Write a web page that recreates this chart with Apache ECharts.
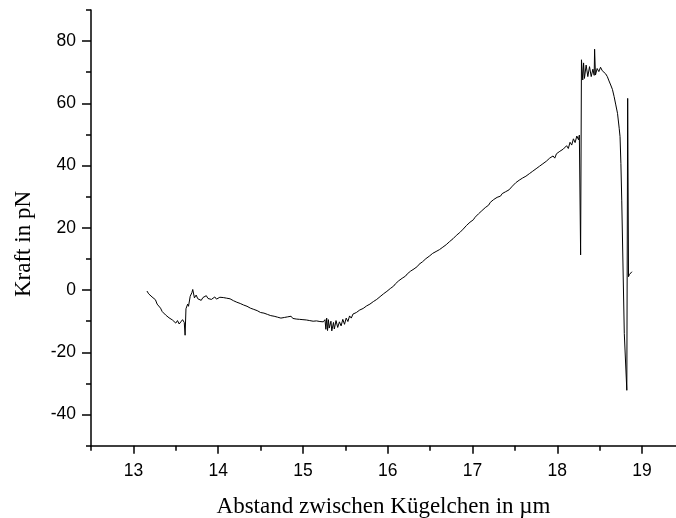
<!DOCTYPE html>
<html>
<head>
<meta charset="utf-8">
<script src="https://cdn.jsdelivr.net/npm/echarts@6/dist/echarts.min.js"></script>
<style>
html,body{margin:0;padding:0;background:#fff;}
#c{width:676px;height:518px;}
</style>
</head>
<body>
<div id="c"></div>
<script>
// Distance between beads (µm)
const distance = [
13.16,13.18,13.20,13.22,13.24,13.26,13.28,13.30,13.32,13.34,13.36,13.38,13.40,13.42,13.44,13.46,13.48,13.50,13.52,13.54,13.56,13.58,13.60,
13.61,13.62,13.64,13.65,13.67,13.69,13.70,13.72,13.74,13.76,13.78,13.80,13.82,13.84,13.86,13.88,13.90,13.92,13.94,13.96,13.98,
14.00,14.02,14.04,14.06,14.08,14.10,14.12,14.14,14.16,14.18,14.20,14.22,14.24,14.26,14.28,14.30,14.32,14.34,14.36,14.38,14.40,
14.42,14.44,14.46,14.48,14.50,14.52,14.54,14.56,14.58,14.60,14.62,14.64,14.66,14.68,14.70,14.72,14.74,14.76,14.78,14.80,
14.82,14.84,14.86,14.88,14.90,14.92,14.94,14.96,14.98,15.00,15.02,15.04,15.06,15.08,15.10,15.12,15.14,15.16,15.18,15.20,
15.22,15.24,15.26,15.27,15.28,15.29,15.30,15.31,15.33,15.34,15.36,15.37,15.39,15.41,15.43,15.45,15.47,15.49,15.51,15.53,
15.55,15.57,15.59,15.61,15.63,15.65,15.67,15.69,15.71,15.73,15.75,15.77,15.79,15.81,15.83,15.85,15.87,15.89,15.91,15.93,
15.95,15.97,15.99,16.01,16.03,16.05,16.07,16.09,16.11,16.13,16.15,16.17,16.19,16.21,16.23,16.25,16.27,16.29,16.31,16.33,
16.35,16.37,16.39,16.41,16.43,16.45,16.47,16.49,16.51,16.53,16.55,16.57,16.59,16.61,16.63,16.65,16.67,16.69,16.71,16.73,
16.75,16.77,16.79,16.81,16.83,16.85,16.87,16.89,16.91,16.93,16.95,16.97,16.99,17.01,17.03,17.05,17.07,17.09,17.11,17.13,
17.15,17.17,17.19,17.21,17.23,17.25,17.27,17.29,17.31,17.33,17.35,17.37,17.39,17.41,17.43,17.45,17.47,17.49,17.51,17.53,
17.55,17.57,17.59,17.61,17.63,17.65,17.67,17.69,17.71,17.73,17.75,17.77,17.79,17.81,17.83,17.85,17.87,17.89,17.91,17.93,
17.95,17.97,17.99,18.01,18.03,18.05,18.07,18.09,18.11,18.13,18.15,18.17,18.19,18.21,18.23,18.25,18.26,18.27,18.275,18.285,
18.30,18.31,18.32,18.34,18.36,18.38,18.40,18.42,18.435,18.44,18.45,18.47,18.49,18.51,18.53,18.55,18.57,18.59,18.61,18.63,
18.65,18.67,18.69,18.71,18.73,18.74,18.75,18.76,18.79,18.82,18.83,18.84,18.85,18.86,18.87,18.88
];
// Force (pN)
const force = [
-0.3,-1.2,-1.0,-2.2,-2.8,-3.1,-4.5,-5.0,-5.8,-6.9,-7.3,-8.0,-8.2,-8.9,-9.1,-9.6,-9.9,-10.6,-9.8,-10.9,-10.2,-9.5,-10.4,
-14.5,-6.0,-4.5,-5.2,-2.0,-0.8,0.2,-2.5,-1.6,-2.8,-2.2,-3.3,-2.4,-2.9,-1.8,-2.7,-2.1,-3.0,-2.6,-2.2,-2.9,
-2.5,-2.3,-2.8,-2.4,-2.1,-2.6,-2.3,-2.8,-2.9,-3.4,-3.2,-3.9,-3.6,-4.3,-4.1,-4.8,-4.6,-5.2,-5.1,-5.8,-5.5,
-6.2,-6.0,-6.6,-6.4,-7.2,-6.8,-7.4,-7.1,-7.8,-7.5,-8.2,-7.6,-8.4,-8.1,-8.7,-8.3,-9.0,-8.5,-8.8,-9.2,
-8.6,-9.0,-8.4,-9.1,-8.7,-9.3,-8.9,-9.4,-8.8,-9.5,-9.0,-9.6,-9.2,-9.8,-9.3,-10.0,-9.4,-9.9,-9.5,-10.1,
-9.6,-10.2,-9.5,-12.6,-9.0,-13.0,-9.5,-12.2,-10.0,-13.1,-10.4,-12.5,-9.8,-12.0,-10.2,-11.5,-9.4,-11.0,-9.0,-10.1,
-8.3,-9.0,-7.7,-8.0,-7.2,-7.3,-6.4,-6.6,-5.9,-6.0,-5.1,-5.3,-4.5,-4.6,-3.7,-3.9,-3.0,-2.9,-2.1,-2.3,
-1.2,-1.5,-0.4,-0.2,0.5,1.0,1.3,2.0,2.2,3.0,3.1,3.8,4.3,4.5,5.2,5.3,6.1,6.3,6.8,7.4,
7.6,8.3,8.4,9.1,9.3,10.1,10.2,10.9,11.0,11.8,11.3,12.4,12.2,13.0,12.9,13.8,13.5,14.6,14.2,15.6,
15.4,16.5,16.3,17.6,17.2,18.5,18.3,19.6,19.5,20.8,20.5,21.8,22.0,22.6,23.4,23.2,24.5,24.3,25.5,25.6,
26.5,26.9,27.3,28.2,28.0,29.1,29.3,29.8,30.4,30.2,31.0,30.9,31.6,31.5,32.2,32.6,33.4,33.2,34.5,34.9,
35.3,35.0,36.0,35.8,36.6,36.5,37.4,37.1,38.2,38.0,39.0,38.7,39.8,39.9,40.6,40.3,41.4,41.0,42.4,41.9,
43.1,42.4,43.8,43.2,44.6,44.0,45.3,44.7,46.4,45.5,47.5,46.6,48.6,47.4,49.5,48.3,49.8,49.3,11.3,74.0,
67.5,73.0,68.0,72.3,68.6,71.8,68.6,71.0,69.0,77.4,69.1,71.2,70.2,71.6,70.5,70.2,69.5,68.6,67.2,65.9,
64.5,62.2,59.5,56.8,52.0,49.3,40.7,28.9,-13.9,-32.2,61.6,4.3,5.0,5.4,4.8,5.9
];
const xMajor = [13,14,15,16,17,18,19];
const xMinor = [12.5,13.5,14.5,15.5,16.5,17.5,18.5];
const yMajor = [-40,-20,0,20,40,60,80];
const yMinor = [-50,-30,-10,10,30,50,70,90];
const xTitle = 'Abstand zwischen Kügelchen in µm';
const yTitle = 'Kraft in pN';

const data = distance.map((d,i)=>[d, force[i]]);
const chart = echarts.init(document.getElementById('c'), null, {renderer:'canvas'});
const labelFont = {color:'#000', fontFamily:'Liberation Sans, Arial, sans-serif', fontSize:17.5};
const titleFont = {color:'#000', fontFamily:'Liberation Serif, Times New Roman, serif', fontSize:23};
chart.setOption({
  animation:false,
  backgroundColor:'#fff',
  grid:{left:91, top:10, right:0, bottom:72.3, containLabel:false, outerBoundsMode:'none'},
  graphic:[{
    type:'text', x:24, y:244, rotation:Math.PI/2,
    style:{text:yTitle, fill:'#000', font:'23px "Liberation Serif", "Times New Roman", serif', align:'center', verticalAlign:'middle'}
  }],
  xAxis:[{
    type:'value', min:12.5, max:19.4, interval:0.5,
    name:xTitle, nameLocation:'middle', nameGap:50,
    nameTextStyle:titleFont,
    axisLine:{show:true, onZero:false, lineStyle:{color:'#000', width:1.5}},
    axisTick:{show:true, inside:false, length:8, lineStyle:{color:'#000', width:1.5}, customValues:xMajor},
    axisLabel:{show:true, margin:16, ...labelFont, customValues:xMajor, formatter:v=>String(v)},
    splitLine:{show:false}
  },{
    type:'value', min:12.5, max:19.4, interval:0.5, position:'bottom',
    axisLine:{show:false, onZero:false},
    axisTick:{show:true, length:5, lineStyle:{color:'#000', width:1.5}, customValues:xMinor},
    axisLabel:{show:false},
    splitLine:{show:false}
  }],
  yAxis:[{
    type:'value', min:-50, max:90, interval:10,
    axisLine:{show:true, onZero:false, lineStyle:{color:'#000', width:1.5}},
    axisTick:{show:true, length:9, lineStyle:{color:'#000', width:1.5}, customValues:yMajor},
    axisLabel:{show:true, margin:15, ...labelFont, customValues:yMajor, formatter:v=>String(v)},
    splitLine:{show:false}
  },{
    type:'value', min:-50, max:90, interval:10, position:'left',
    axisLine:{show:false, onZero:false},
    axisTick:{show:true, length:5, lineStyle:{color:'#000', width:1.5}, customValues:yMinor},
    axisLabel:{show:false},
    splitLine:{show:false}
  }],
  series:[{
    type:'line', xAxisIndex:0, yAxisIndex:0, data:data,
    showSymbol:false, symbol:'none',
    lineStyle:{color:'#000', width:1},
    clip:true
  }]
});
</script>
</body>
</html>
